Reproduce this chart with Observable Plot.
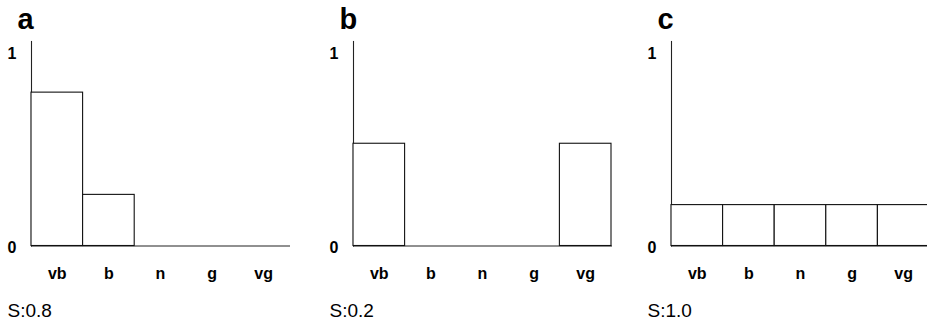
<!DOCTYPE html>
<html>
<head>
<meta charset="utf-8">
<script src="https://cdn.jsdelivr.net/npm/d3@7"></script>
<script src="https://cdn.jsdelivr.net/npm/@observablehq/plot@0.6"></script>
<style>
  html, body { margin: 0; padding: 0; background: #fff; overflow: hidden; }
  #wrap { position: relative; width: 927px; height: 322px; overflow: hidden; }
  .panel { position: absolute; top: 0; width: 310px; height: 322px; }
  .panel svg { max-width: none !important; width: 310px; height: 322px; }
</style>
</head>
<body>
<div id="wrap"></div>
<script>
const categories = ["vb", "b", "n", "g", "vg"];
const panelLetters = ["a", "b", "c"];
const captions = ["S:0.8", "S:0.2", "S:1.0"];
const seriesA = [0.75, 0.25, 0, 0, 0];
const seriesB = [0.5, 0, 0, 0, 0.5];
const seriesC = [0.2, 0.2, 0.2, 0.2, 0.2];
const yTicks = [0, 1];

const allSeries = [seriesA, seriesB, seriesC];
const panelLefts = [0, 322, 640];
const font = "'Liberation Sans', Arial, Helvetica, sans-serif";
const wrap = document.getElementById("wrap");

allSeries.forEach((series, i) => {
  const data = categories.map((c, j) => ({cat: c, value: series[j]}));
  const chart = Plot.plot({
    width: 310,
    height: 322,
    marginLeft: 31,
    marginRight: 21,
    marginTop: 41,
    marginBottom: 76.5,
    style: {fontFamily: font, background: "transparent", color: "#000", overflow: "visible", maxWidth: "none"},
    x: {domain: categories, padding: 0, round: false, axis: null},
    y: {domain: [0, 1], axis: null},
    marks: [
      Plot.frame({anchor: "left", stroke: "#222", strokeWidth: 1.1}),
      Plot.frame({anchor: "bottom", stroke: "#222", strokeWidth: 1.1}),
      Plot.barY(data, {x: "cat", y: "value", fill: "white", stroke: "#111", strokeWidth: 1.1}),
      Plot.axisY({ticks: [yTicks[0]], tickFormat: d3.format("d"), tickSize: 0, tickPadding: 15, dy: 1.5, fontSize: 16, fontWeight: "bold", label: null}),
      Plot.axisY({ticks: [yTicks[1]], tickFormat: d3.format("d"), tickSize: 0, tickPadding: 15, dy: 12, fontSize: 16, fontWeight: "bold", label: null}),
      Plot.axisX({tickSize: 0, tickPadding: 22, fontSize: 16, fontWeight: "bold", label: null}),
      Plot.text([panelLetters[i]], {frameAnchor: "top-left", text: d => d, dx: -14, dy: -13, fontSize: 29, fontWeight: "bold", textAnchor: "start", lineAnchor: "bottom"}),
      Plot.text([captions[i]], {frameAnchor: "bottom-left", text: d => d, dx: -24, dy: 71, fontSize: 19, fontWeight: "normal", textAnchor: "start", lineAnchor: "bottom"})
    ]
  });
  const div = document.createElement("div");
  div.className = "panel";
  div.style.left = panelLefts[i] + "px";
  div.appendChild(chart);
  wrap.appendChild(div);
});
</script>
</body>
</html>
